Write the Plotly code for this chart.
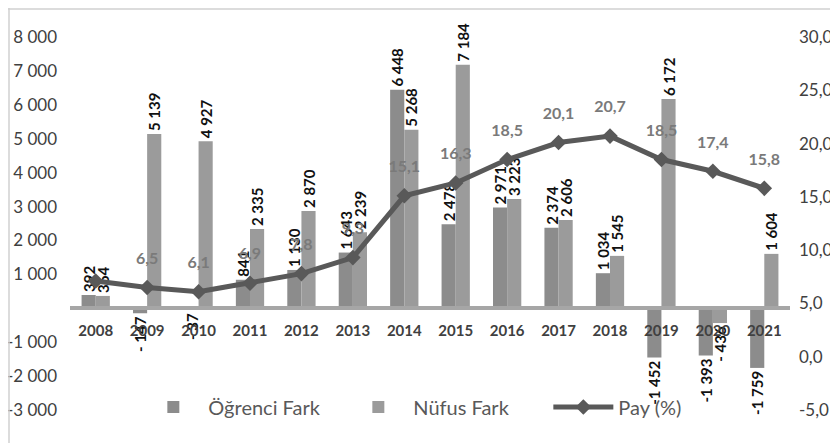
import plotly.graph_objects as go

YEARS = [str(y) for y in range(2008, 2022)]
OGRENCI_FARK = [392, -147, -37, 841, 1130, 1643, 6448, 2478, 2971, 2374, 1034, -1452, -1393, -1759]
NUFUS_FARK = [364, 5139, 4927, 2335, 2870, 2239, 5268, 7184, 3223, 2606, 1545, 6172, -436, 1604]
PAY = [7.1, 6.5, 6.1, 6.9, 7.8, 9.3, 15.1, 16.3, 18.5, 20.1, 20.7, 18.5, 17.4, 15.8]

LEFT_TICKS = [-3000, -2000, -1000, 1000, 2000, 3000, 4000, 5000, 6000, 7000, 8000]
RIGHT_TICKS = [-5, 0, 5, 10, 15, 20, 25, 30]

FONT = "Lato, Open Sans, sans-serif"
TICK_COLOR = "#404040"

# page body has an 8px margin, so the figure is 8px smaller than the window
PLOT_W = 720
PLOT_H = 373


def fmt_thousands(value: int) -> str:
    text = f"{abs(value):,}".replace(",", " ")
    if value < 0:
        return ("- " if abs(value) < 1000 else "-") + text
    return text


def bar_trace(name, values, color):
    return go.Bar(
        x=YEARS,
        y=values,
        name=name,
        marker={"color": color, "line": {"width": 0}},
        text=[fmt_thousands(v) for v in values],
        textposition="outside",
        textangle=-90,
        constraintext="none",
        cliponaxis=False,
        textfont={"family": FONT, "size": 15, "color": "#111111", "weight": "bold"},
    )


fig = go.Figure()
fig.add_trace(bar_trace("Öğrenci Fark", OGRENCI_FARK, "#8c8c8c"))
fig.add_trace(bar_trace("Nüfus Fark", NUFUS_FARK, "#9b9b9b"))
fig.add_trace(
    go.Scatter(
        x=YEARS,
        y=PAY,
        name="Pay (%)",
        yaxis="y2",
        mode="lines+markers",
        line={"color": "#595959", "width": 5},
        marker={"symbol": "diamond", "size": 12, "color": "#595959"},
        cliponaxis=False,
    )
)
# labels of the share line, lifted a bit above the points
fig.add_trace(
    go.Scatter(
        x=YEARS,
        y=PAY,
        yaxis="y2",
        mode="markers+text",
        showlegend=False,
        hoverinfo="skip",
        marker={"size": 30, "opacity": 0},
        text=[""] + [f"{v:.1f}".replace(".", ",") for v in PAY[1:]],
        textposition="top center",
        textfont={"family": FONT, "size": 16, "color": "#7a7a7a", "weight": "bold"},
        cliponaxis=False,
    )
)

fig.update_layout(
    width=830,
    height=435,
    template="plotly_white",
    plot_bgcolor="white",
    paper_bgcolor="white",
    font={"family": FONT, "color": TICK_COLOR},
    margin={"l": 62, "r": 48, "t": 29, "b": 33, "autoexpand": False},
    barmode="group",
    bargap=0.45,
    bargroupgap=0,
    showlegend=True,
    legend={
        "orientation": "h",
        "x": 0.522,
        "xanchor": "center",
        "y": 0.008,
        "yanchor": "middle",
        "font": {"family": FONT, "size": 20, "color": "#595959"},
        "bgcolor": "rgba(0,0,0,0)",
        "itemwidth": 60,
        "entrywidth": 130,
    },
    xaxis={
        "type": "category",
        "range": [-0.5, 13.5],
        "anchor": "free",
        "position": 3000 / 11000,
        "automargin": False,
        "showline": True,
        "linecolor": "#a6a6a6",
        "linewidth": 4,
        "showgrid": False,
        "ticks": "",
        "ticklabelstandoff": 8,
        "tickfont": {"family": FONT, "size": 15, "color": TICK_COLOR, "weight": "bold"},
        "tickangle": 0,
    },
    yaxis={
        "range": [-3000, 8000],
        "automargin": False,
        "tickvals": LEFT_TICKS,
        "ticktext": [fmt_thousands(v).replace("- ", "-") for v in LEFT_TICKS],
        "showgrid": False,
        "zeroline": False,
        "showline": False,
        "ticks": "",
        "ticklabelstandoff": 12,
        "tickfont": {"family": FONT, "size": 17, "color": TICK_COLOR},
    },
    yaxis2={
        "range": [-5, 30],
        "overlaying": "y",
        "side": "right",
        "automargin": False,
        "tickvals": RIGHT_TICKS,
        "ticktext": [f"{v:.1f}".replace(".", ",") for v in RIGHT_TICKS],
        "showgrid": False,
        "zeroline": False,
        "showline": False,
        "ticks": "",
        "ticklabelstandoff": 8,
        "tickfont": {"family": FONT, "size": 17, "color": TICK_COLOR},
    },
    shapes=[
        {"type": "line", "xref": "paper", "yref": "paper",
         "x0": -62 / PLOT_W, "x1": 48 / PLOT_W + 1, "y0": 1 + 28 / PLOT_H, "y1": 1 + 28 / PLOT_H,
         "line": {"color": "#d0d0d0", "width": 1.5}},
        {"type": "line", "xref": "paper", "yref": "paper",
         "x0": -61 / PLOT_W, "x1": -61 / PLOT_W, "y0": 1 + 29 / PLOT_H, "y1": -33 / PLOT_H,
         "line": {"color": "#d0d0d0", "width": 1.5}},
    ],
)

fig.write_html("out.html")
